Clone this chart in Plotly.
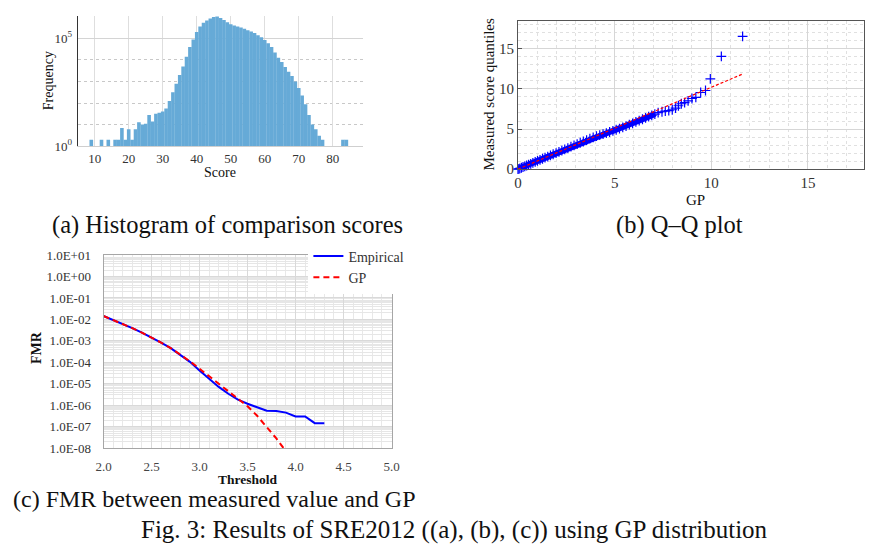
import plotly.graph_objects as go

W, H = 873, 555
SERIF = "Liberation Serif"

# ---------------- (a) histogram data ----------------
hist_scores = [9, 12, 14, 16, 17, 18, 19, 20, 21, 22, 23, 24, 25, 26, 27, 28, 29, 30,
               31, 32, 33, 34, 35, 36, 37, 38, 39, 40, 41, 42, 43, 44, 45, 46, 47, 48,
               49, 50, 51, 52, 53, 54, 55, 56, 57, 58, 59, 60, 61, 62, 63, 64, 65, 66,
               67, 68, 69, 70, 71, 72, 73, 74, 75, 76, 77, 83, 84]
hist_counts = [2, 2, 2, 2, 2, 7, 2, 6, 2, 6, 13, 10, 11, 28, 14, 32, 35, 40,
               56, 126, 316, 794, 1995, 5012, 14125, 39811, 89125, 199526, 354813,
               524807, 676083, 831764, 977237, 1047129, 891251, 707946,
               562341, 457088, 398107, 354813, 316228, 281838, 239883, 208930,
               177828, 141254, 112202, 83176, 60256, 39811, 22387, 12589, 7943, 4677,
               2818, 1778, 1000, 501, 224, 89, 28, 10, 6, 3, 2, 2, 2]
hist_xticks = [10, 20, 30, 40, 50, 60, 70, 80]
hist_ytick_exp = [0, 5]
hist_minor_exp = [1, 2, 3, 4]

# ---------------- (b) Q-Q data ----------------
qq_gp = [0.00, 0.05, 0.10, 0.18, 0.26, 0.35, 0.45, 0.55, 0.66, 0.77, 0.89, 1.01,
         1.14, 1.27, 1.40, 1.54, 1.68, 1.82, 1.97, 2.12, 2.27, 2.42, 2.58, 2.74,
         2.90, 3.06, 3.22, 3.38, 3.55, 3.72, 3.89, 4.06, 4.23, 4.40, 4.57, 4.74,
         4.91, 5.08, 5.25, 5.42, 5.59, 5.76, 5.93, 6.10, 6.27, 6.44, 6.60, 6.76,
         6.92, 7.08, 7.25, 7.45, 7.62, 7.80, 7.98, 8.15, 8.30, 8.45, 8.62, 8.80,
         9.00, 9.20, 9.45, 9.70, 9.95, 10.52, 11.62]
qq_measured = [0.00, 0.04, 0.10, 0.18, 0.27, 0.36, 0.46, 0.56, 0.67, 0.79, 0.91, 1.03,
               1.16, 1.30, 1.43, 1.57, 1.71, 1.86, 2.01, 2.16, 2.32, 2.47, 2.63, 2.80,
               2.96, 3.12, 3.29, 3.45, 3.62, 3.80, 3.97, 4.12, 4.24, 4.37, 4.50, 4.63,
               4.77, 4.91, 5.06, 5.21, 5.37, 5.54, 5.71, 5.88, 6.05, 6.22, 6.38, 6.54,
               6.70, 6.86, 7.05, 7.15, 7.22, 7.30, 7.40, 7.60, 7.90, 8.15, 8.30, 8.50,
               8.80, 8.95, 9.55, 9.80, 11.25, 14.05, 16.55]
qq_dense_count = 50          # the first quantiles overlap into a solid band
ref_gp = [0.0, 11.62]
ref_measured = [0.0, 11.85]
qq_ticks = [0, 5, 10, 15]

# ---------------- (c) FMR data ----------------
thr_emp = [2.0, 2.1, 2.2, 2.3, 2.4, 2.5, 2.6, 2.7, 2.8, 2.9, 3.0, 3.1, 3.2, 3.3,
           3.4, 3.5, 3.6, 3.7, 3.8, 3.9, 4.0, 4.1, 4.2, 4.3]
fmr_emp = [1.45e-2, 9.5e-3, 6.2e-3, 3.9e-3, 2.4e-3, 1.45e-3, 8.3e-4, 4.6e-4, 2.3e-4,
           1.05e-4, 4.2e-5, 1.66e-5, 7.1e-6, 3.4e-6, 1.8e-6, 1.17e-6, 7.9e-7, 5.5e-7,
           5.4e-7, 4.5e-7, 3.0e-7, 3.0e-7, 1.45e-7, 1.45e-7]
thr_gp = [2.0, 2.1, 2.2, 2.3, 2.4, 2.5, 2.6, 2.7, 2.8, 2.9, 3.0, 3.1, 3.2, 3.3,
          3.4, 3.5, 3.6, 3.7, 3.8, 3.9]
fmr_gp = [1.45e-2, 9.5e-3, 6.2e-3, 3.9e-3, 2.4e-3, 1.45e-3, 8.3e-4, 4.6e-4, 2.3e-4,
          1.12e-4, 5.0e-5, 2.2e-5, 1.0e-5, 4.4e-6, 2.0e-6, 8.9e-7, 3.2e-7, 1.0e-7,
          2.8e-8, 7.0e-9]
fmr_tick_exp = [1, 0, -1, -2, -3, -4, -5, -6, -7, -8]
thr_ticks = [2.0, 2.5, 3.0, 3.5, 4.0, 4.5, 5.0]


def px(x):
    return x / W


def py(y):
    return 1 - y / H


fig = go.Figure()

# (a)
fig.add_trace(go.Bar(
    x=hist_scores, y=hist_counts, width=1.06,
    marker=dict(color="rgb(102,170,215)", line=dict(width=0)),
    xaxis="x", yaxis="y", showlegend=False))

# (b)
fig.add_trace(go.Scatter(
    x=qq_gp[:qq_dense_count], y=qq_measured[:qq_dense_count], mode="lines",
    line=dict(color="#0000FF", width=6),
    cliponaxis=False, xaxis="x2", yaxis="y2", showlegend=False))
fig.add_trace(go.Scatter(
    x=qq_gp, y=qq_measured, mode="markers",
    marker=dict(symbol="cross-thin", size=7,
                line=dict(color="#0000FF", width=1.2)),
    cliponaxis=False, xaxis="x2", yaxis="y2", showlegend=False))
fig.add_trace(go.Scatter(
    x=ref_gp, y=ref_measured, mode="lines",
    line=dict(color="#FF0000", width=1.2, dash="3px,2px"),
    xaxis="x2", yaxis="y2", showlegend=False))

# (c)
fig.add_trace(go.Scatter(
    x=thr_emp, y=fmr_emp, mode="lines", name="Empirical",
    line=dict(color="#0000FF", width=2),
    xaxis="x3", yaxis="y3"))
fig.add_trace(go.Scatter(
    x=thr_gp, y=fmr_gp, mode="lines", name="GP",
    line=dict(color="#FF0000", width=2, dash="6px,4px"),
    xaxis="x3", yaxis="y3"))

grid_a = "#dedede"
minor_c = [k * 10.0 ** e for e in range(-8, 1) for k in range(2, 10)]

fig.update_layout(
    width=W, height=H,
    margin=dict(l=0, r=0, t=0, b=0),
    paper_bgcolor="white", plot_bgcolor="white",
    font=dict(family=SERIF, color="#222"),
    # ---- (a)
    xaxis=dict(domain=[px(71), px(362)], anchor="y", range=[5, 89],
               tickvals=hist_xticks, showgrid=True, gridcolor=grid_a,
               ticks="",
               tickfont=dict(size=13, family=SERIF, color="#333"),
               showline=True, linecolor="#cfcfcf", linewidth=1, mirror=False,
               zeroline=False),
    yaxis=dict(domain=[py(143), py(9)], anchor="x", type="log", range=[0, 6.05],
               tickvals=[10.0 ** e for e in hist_ytick_exp],
               ticktext=[f"10<sup>{e}</sup>" for e in hist_ytick_exp],
               showgrid=True, gridcolor="#d4d4d4",
               minor=dict(tickmode="array", tickvals=[10.0 ** e for e in hist_minor_exp],
                          showgrid=True, gridcolor="#c8c8c8", griddash="dot", ticks=""),
               ticks="outside", ticklen=2, tickcolor="rgba(0,0,0,0)",
               tickfont=dict(size=13, family=SERIF, color="#333"),
               showline=True, linecolor="#333", linewidth=1, mirror=False,
               zeroline=False),
    xaxis4=dict(domain=[px(71), px(362)], anchor="y4", overlaying="x",
                range=[5, 89], showgrid=False, showticklabels=False,
                showline=True, linecolor="#333", linewidth=1, side="top"),
    yaxis4=dict(domain=[py(143), py(9)], anchor="x4", overlaying="y",
                range=[0, 1], showgrid=False, showticklabels=False,
                showline=True, linecolor="#333", linewidth=1, side="right"),
    # ---- (b)
    xaxis2=dict(domain=[px(519.5), px(872)], anchor="y2", range=[0, 17.9],
                tickvals=qq_ticks, showgrid=True, gridcolor="#d6d6d6",
                minor=dict(dtick=1, showgrid=True, gridcolor="#e0e0e0", griddash="dot"),
                ticks="",
                tickfont=dict(size=15, family=SERIF, color="#333"),
                showline=True, linecolor="#555", linewidth=1, mirror=True,
                zeroline=False),
    yaxis2=dict(domain=[py(166.7), py(14)], anchor="x2", range=[0, 18.5],
                tickvals=qq_ticks, showgrid=True, gridcolor="#d6d6d6",
                minor=dict(dtick=1, showgrid=True, gridcolor="#e0e0e0", griddash="dot"),
                ticks="inside", ticklen=4, tickcolor="#555",
                tickfont=dict(size=15, family=SERIF, color="#333"),
                showline=True, linecolor="#555", linewidth=1, mirror=True,
                zeroline=False),
    # ---- (c)
    xaxis3=dict(domain=[px(97.3), px(390.7)], anchor="y3", range=[2, 5],
                tickvals=thr_ticks, ticktext=[f"{v:.1f}" for v in thr_ticks],
                showgrid=True, gridcolor="#d9d9d9",
                minor=dict(dtick=0.1, showgrid=True, gridcolor="#e8e8e8"),
                ticks="outside", ticklen=6, tickcolor="rgba(0,0,0,0)",
                tickfont=dict(size=13, family=SERIF, color="#444"),
                showline=True, linecolor="#a6a6a6", linewidth=1, mirror=True,
                zeroline=False),
    yaxis3=dict(domain=[py(453.3), py(255)], anchor="x3", type="log", range=[-8, 1],
                tickvals=[10.0 ** e for e in fmr_tick_exp],
                ticktext=[f"1.0E{e:+03d}" for e in fmr_tick_exp],
                showgrid=True, gridcolor="#d9d9d9",
                minor=dict(tickmode="array", tickvals=minor_c, showgrid=True,
                           gridcolor="#e6e6e6", ticks=""),
                ticks="outside", ticklen=9, tickcolor="rgba(0,0,0,0)",
                tickfont=dict(size=13, family=SERIF, color="#333"),
                showline=True, linecolor="#a6a6a6", linewidth=1, mirror=True,
                zeroline=False),
    legend=dict(x=px(306), y=py(240), xanchor="left", yanchor="top",
                bgcolor="white", borderwidth=0, tracegroupgap=0,
                itemwidth=30, font=dict(size=14, family=SERIF, color="#333")),
)

anns = [
    dict(text="Frequency", x=px(42), y=py(76), angle=-90, size=14, xa="center"),
    dict(text="Score", x=px(216), y=py(170), angle=0, size=14, xa="center"),
    dict(text="(a) Histogram of comparison scores", x=px(43), y=py(224), angle=0, size=24.5, xa="left"),
    dict(text="Measured score quantiles", x=px(490), y=py(90), angle=-90, size=15, xa="center"),
    dict(text="GP", x=px(700), y=py(198), angle=0, size=15, xa="center"),
    dict(text="(b) Q\u2013Q plot", x=px(684), y=py(224), angle=0, size=24.5, xa="center"),
    dict(text="<b>FMR</b>", x=px(29), y=py(350), angle=-90, size=14, xa="center"),
    dict(text="<b>Threshold</b>", x=px(244), y=py(486), angle=0, size=13.5, xa="center"),
    dict(text="(c) FMR between measured value and GP", x=px(3), y=py(506), angle=0, size=24, xa="left"),
    dict(text="Fig. 3: Results of SRE2012 ((a), (b), (c)) using GP distribution", x=px(455), y=py(538), angle=0, size=25, xa="center"),
]
for a in anns:
    fig.add_annotation(text=a["text"], x=a["x"], y=a["y"], xref="paper", yref="paper",
                       xanchor=a["xa"], yanchor="middle", showarrow=False,
                       textangle=a["angle"],
                       font=dict(size=a["size"], family=SERIF, color="#111"))

fig.write_html("out.html")
